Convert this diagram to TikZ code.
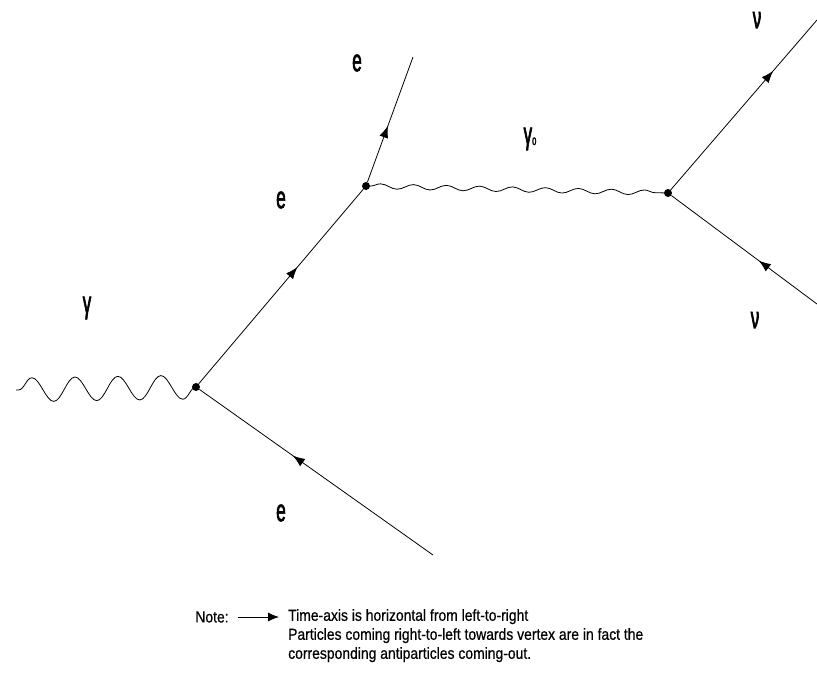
\documentclass[tikz,border=0pt]{standalone}
\usepackage{fontspec}
\setmainfont{Liberation Sans}
\newfontfamily\lblfont{Liberation Sans}[FakeStretch=0.55,FakeBold=2]
\newfontfamily\notefont{Liberation Sans}[FakeStretch=0.87,FakeBold=0.6]
\usetikzlibrary{arrows.meta,decorations.markings,decorations.pathmorphing}

\tikzset{
  fermion/.style={thick,postaction={decorate},
    decoration={markings,mark=at position #1 with {\arrow{Latex[length=12pt,width=9pt]}}}},
  photon/.style={thick,decorate,decoration={snake,segment length=43pt,amplitude=12pt}},
  zphoton/.style={thick,decorate,decoration={snake,segment length=33pt,amplitude=2.5pt}},
  vertex/.style={circle,fill,inner sep=0pt,minimum size=8pt},
  lbl/.style={font=\lblfont\fontsize{31}{31}\selectfont,inner sep=0pt}
}

\begin{document}
\begin{tikzpicture}[x=1pt,y=-1pt,>=Latex]
\useasboundingbox (0,0) rectangle (817,689);

% vertices
\node[vertex] (v1) at (196,387) {};
\node[vertex] (v2) at (366,186) {};
\node[vertex] (v3) at (668,193) {};

% free ends
\coordinate (gin) at (16,390);
\coordinate (etop) at (413,57);
\coordinate (ebot) at (433,555);
\coordinate (ntop) at (817,20);
\coordinate (nbot) at (817,304);

% lines
\draw[photon] (v1.center) -- (gin);
\draw[fermion=0.6] (v1) -- (v2);
\draw[fermion=0.45] (v2) -- (etop);
\draw[fermion=0.6] (ebot) -- (v1);
\draw[zphoton] (v2) -- (v3);
\draw[fermion=0.7] (v3) -- (ntop);
\draw[fermion=0.4] (nbot) -- (v3);

% labels
\node[lbl] (lgam) at (87,308) {γ};
\node[lbl] (le1) at (357,63) {e};
\node[lbl] (le2) at (281,200) {e};
\node[lbl] (le3) at (281,513) {e};
\node[lbl] (lgz) at (530,139) {γ{\fontsize{14}{14}\selectfont\raisebox{-1pt}{o}}};
\node[lbl] (ln1) at (757,20) {ν};
\node[lbl] (ln2) at (755,320) {ν};

% note
\node[font=\notefont\fontsize{16}{16}\selectfont,inner sep=0pt] (note) at (212,617) {Note:};
\node[font=\notefont\fontsize{16}{19}\selectfont,inner sep=0pt,align=left,anchor=north west] (txt) at (288,609)
  {Time-axis is horizontal from left-to-right\\
   Particles coming right-to-left towards vertex are in fact the\\
   corresponding antiparticles coming-out.};
\draw[-{Latex[length=11pt,width=9pt]},thick] (note.east) ++(9,0) coordinate (narr) -- ([xshift=-9pt]narr -| txt.west);
\end{tikzpicture}
\end{document}
